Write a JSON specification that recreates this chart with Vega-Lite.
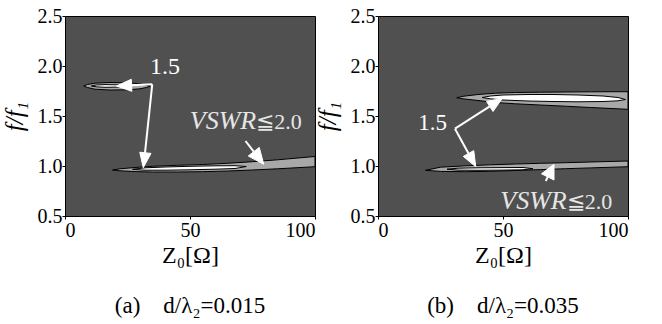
{
  "$schema": "https://vega.github.io/schema/vega-lite/v6.json",
  "padding": {"left": 1, "top": 5, "right": 5, "bottom": 5},
  "datasets": {
    "contours": [
      {"panel": "a", "shape": "a1", "level": "outer", "Z": 7.5, "f": 1.8, "f2": 1.8},
      {"panel": "a", "shape": "a1", "level": "outer", "Z": 9, "f": 1.785, "f2": 1.815},
      {"panel": "a", "shape": "a1", "level": "outer", "Z": 12, "f": 1.768, "f2": 1.828},
      {"panel": "a", "shape": "a1", "level": "outer", "Z": 18, "f": 1.76, "f2": 1.835},
      {"panel": "a", "shape": "a1", "level": "outer", "Z": 25, "f": 1.762, "f2": 1.832},
      {"panel": "a", "shape": "a1", "level": "outer", "Z": 30, "f": 1.772, "f2": 1.822},
      {"panel": "a", "shape": "a1", "level": "outer", "Z": 32.5, "f": 1.785, "f2": 1.808},
      {"panel": "a", "shape": "a1", "level": "outer", "Z": 34, "f": 1.797, "f2": 1.797},
      {"panel": "a", "shape": "a1i", "level": "inner", "Z": 10.5, "f": 1.8, "f2": 1.8},
      {"panel": "a", "shape": "a1i", "level": "inner", "Z": 12.5, "f": 1.792, "f2": 1.81},
      {"panel": "a", "shape": "a1i", "level": "inner", "Z": 16, "f": 1.787, "f2": 1.814},
      {"panel": "a", "shape": "a1i", "level": "inner", "Z": 21, "f": 1.789, "f2": 1.812},
      {"panel": "a", "shape": "a1i", "level": "inner", "Z": 24, "f": 1.795, "f2": 1.806},
      {"panel": "a", "shape": "a1i", "level": "inner", "Z": 25, "f": 1.8, "f2": 1.8},
      {"panel": "a", "shape": "a2", "level": "outer", "Z": 19, "f": 0.96, "f2": 0.96},
      {"panel": "a", "shape": "a2", "level": "outer", "Z": 22, "f": 0.952, "f2": 0.972},
      {"panel": "a", "shape": "a2", "level": "outer", "Z": 28, "f": 0.944, "f2": 0.985},
      {"panel": "a", "shape": "a2", "level": "outer", "Z": 35, "f": 0.94, "f2": 0.997},
      {"panel": "a", "shape": "a2", "level": "outer", "Z": 45, "f": 0.94, "f2": 1.007},
      {"panel": "a", "shape": "a2", "level": "outer", "Z": 55, "f": 0.943, "f2": 1.015},
      {"panel": "a", "shape": "a2", "level": "outer", "Z": 65, "f": 0.95, "f2": 1.027},
      {"panel": "a", "shape": "a2", "level": "outer", "Z": 75, "f": 0.96, "f2": 1.043},
      {"panel": "a", "shape": "a2", "level": "outer", "Z": 85, "f": 0.972, "f2": 1.062},
      {"panel": "a", "shape": "a2", "level": "outer", "Z": 100, "f": 0.993, "f2": 1.095},
      {"panel": "a", "shape": "a2i", "level": "inner", "Z": 27, "f": 0.967, "f2": 0.967},
      {"panel": "a", "shape": "a2i", "level": "inner", "Z": 32, "f": 0.958, "f2": 0.982},
      {"panel": "a", "shape": "a2i", "level": "inner", "Z": 40, "f": 0.958, "f2": 0.99},
      {"panel": "a", "shape": "a2i", "level": "inner", "Z": 50, "f": 0.962, "f2": 0.997},
      {"panel": "a", "shape": "a2i", "level": "inner", "Z": 60, "f": 0.968, "f2": 1.002},
      {"panel": "a", "shape": "a2i", "level": "inner", "Z": 68, "f": 0.975, "f2": 1.003},
      {"panel": "a", "shape": "a2i", "level": "inner", "Z": 72.5, "f": 0.995, "f2": 0.995},
      {"panel": "b", "shape": "b1", "level": "outer", "Z": 31.5, "f": 1.683, "f2": 1.683},
      {"panel": "b", "shape": "b1", "level": "outer", "Z": 34, "f": 1.672, "f2": 1.697},
      {"panel": "b", "shape": "b1", "level": "outer", "Z": 40, "f": 1.655, "f2": 1.715},
      {"panel": "b", "shape": "b1", "level": "outer", "Z": 47, "f": 1.635, "f2": 1.728},
      {"panel": "b", "shape": "b1", "level": "outer", "Z": 55, "f": 1.622, "f2": 1.735},
      {"panel": "b", "shape": "b1", "level": "outer", "Z": 65, "f": 1.61, "f2": 1.738},
      {"panel": "b", "shape": "b1", "level": "outer", "Z": 75, "f": 1.598, "f2": 1.74},
      {"panel": "b", "shape": "b1", "level": "outer", "Z": 85, "f": 1.585, "f2": 1.742},
      {"panel": "b", "shape": "b1", "level": "outer", "Z": 100, "f": 1.567, "f2": 1.743},
      {"panel": "b", "shape": "b1i", "level": "inner", "Z": 41.7, "f": 1.685, "f2": 1.685},
      {"panel": "b", "shape": "b1i", "level": "inner", "Z": 45, "f": 1.672, "f2": 1.7},
      {"panel": "b", "shape": "b1i", "level": "inner", "Z": 50, "f": 1.66, "f2": 1.71},
      {"panel": "b", "shape": "b1i", "level": "inner", "Z": 60, "f": 1.65, "f2": 1.715},
      {"panel": "b", "shape": "b1i", "level": "inner", "Z": 70, "f": 1.645, "f2": 1.715},
      {"panel": "b", "shape": "b1i", "level": "inner", "Z": 80, "f": 1.642, "f2": 1.71},
      {"panel": "b", "shape": "b1i", "level": "inner", "Z": 90, "f": 1.645, "f2": 1.7},
      {"panel": "b", "shape": "b1i", "level": "inner", "Z": 96, "f": 1.652, "f2": 1.685},
      {"panel": "b", "shape": "b1i", "level": "inner", "Z": 99, "f": 1.665, "f2": 1.665},
      {"panel": "b", "shape": "b2", "level": "outer", "Z": 19, "f": 0.957, "f2": 0.957},
      {"panel": "b", "shape": "b2", "level": "outer", "Z": 25, "f": 0.946, "f2": 0.988},
      {"panel": "b", "shape": "b2", "level": "outer", "Z": 35, "f": 0.943, "f2": 1.002},
      {"panel": "b", "shape": "b2", "level": "outer", "Z": 45, "f": 0.947, "f2": 1.012},
      {"panel": "b", "shape": "b2", "level": "outer", "Z": 55, "f": 0.955, "f2": 1.02},
      {"panel": "b", "shape": "b2", "level": "outer", "Z": 65, "f": 0.964, "f2": 1.027},
      {"panel": "b", "shape": "b2", "level": "outer", "Z": 75, "f": 0.973, "f2": 1.033},
      {"panel": "b", "shape": "b2", "level": "outer", "Z": 85, "f": 0.981, "f2": 1.04},
      {"panel": "b", "shape": "b2", "level": "outer", "Z": 100, "f": 0.993, "f2": 1.05},
      {"panel": "b", "shape": "b2i", "level": "inner", "Z": 27.6, "f": 0.968, "f2": 0.968},
      {"panel": "b", "shape": "b2i", "level": "inner", "Z": 32, "f": 0.959, "f2": 0.978},
      {"panel": "b", "shape": "b2i", "level": "inner", "Z": 40, "f": 0.957, "f2": 0.982},
      {"panel": "b", "shape": "b2i", "level": "inner", "Z": 50, "f": 0.959, "f2": 0.984},
      {"panel": "b", "shape": "b2i", "level": "inner", "Z": 58, "f": 0.962, "f2": 0.985},
      {"panel": "b", "shape": "b2i", "level": "inner", "Z": 62, "f": 0.973, "f2": 0.973}
    ],
    "arrows": [
      {"panel": "a", "Z": 34.9, "f": 1.817, "Z2": 26.6, "f2": 1.807},
      {"panel": "a", "Z": 34.9, "f": 1.817, "Z2": 32.0, "f2": 1.132},
      {"panel": "a", "Z": 72.2, "f": 1.25, "Z2": 75.5, "f2": 1.143},
      {"panel": "b", "Z": 30.8, "f": 1.373, "Z2": 44.7, "f2": 1.596},
      {"panel": "b", "Z": 30.8, "f": 1.373, "Z2": 36.2, "f2": 1.125},
      {"panel": "b", "Z": 67.1, "f": 0.85, "Z2": 67.9, "f2": 0.891}
    ],
    "heads": [
      {"panel": "a", "id": "ha1", "i": 0, "Z": 20.6, "f": 1.8},
      {"panel": "a", "id": "ha1", "i": 1, "Z": 26.5, "f": 1.867},
      {"panel": "a", "id": "ha1", "i": 2, "Z": 26.75, "f": 1.747},
      {"panel": "a", "id": "ha1", "i": 3, "Z": 20.6, "f": 1.8},
      {"panel": "a", "id": "ha2", "i": 0, "Z": 31.3, "f": 0.983},
      {"panel": "a", "id": "ha2", "i": 1, "Z": 29.9, "f": 1.138},
      {"panel": "a", "id": "ha2", "i": 2, "Z": 34.4, "f": 1.126},
      {"panel": "a", "id": "ha2", "i": 3, "Z": 31.3, "f": 0.983},
      {"panel": "a", "id": "ha3", "i": 0, "Z": 79.5, "f": 1.017},
      {"panel": "a", "id": "ha3", "i": 1, "Z": 73.3, "f": 1.1},
      {"panel": "a", "id": "ha3", "i": 2, "Z": 77.7, "f": 1.186},
      {"panel": "a", "id": "ha3", "i": 3, "Z": 79.5, "f": 1.017},
      {"panel": "b", "id": "hb1", "i": 0, "Z": 49.7, "f": 1.677},
      {"panel": "b", "id": "hb1", "i": 1, "Z": 46.0, "f": 1.545},
      {"panel": "b", "id": "hb1", "i": 2, "Z": 43.4, "f": 1.646},
      {"panel": "b", "id": "hb1", "i": 3, "Z": 49.7, "f": 1.677},
      {"panel": "b", "id": "hb2", "i": 0, "Z": 39.1, "f": 0.993},
      {"panel": "b", "id": "hb2", "i": 1, "Z": 34.1, "f": 1.096},
      {"panel": "b", "id": "hb2", "i": 2, "Z": 38.3, "f": 1.154},
      {"panel": "b", "id": "hb2", "i": 3, "Z": 39.1, "f": 0.993},
      {"panel": "b", "id": "hb3", "i": 0, "Z": 70.4, "f": 1.017},
      {"panel": "b", "id": "hb3", "i": 1, "Z": 70.4, "f": 0.86},
      {"panel": "b", "id": "hb3", "i": 2, "Z": 65.4, "f": 0.922},
      {"panel": "b", "id": "hb3", "i": 3, "Z": 70.4, "f": 1.017}
    ],
    "labels": [
      {"panel": "a", "kind": "num", "Z": 40, "f": 1.92, "text": "1.5"},
      {"panel": "a", "kind": "vswr", "Z": 76.5, "f": 1.373, "text": "VSWR"},
      {"panel": "a", "kind": "rest", "Z": 76.5, "f": 1.373, "text": "≦2.0"},
      {"panel": "b", "kind": "num", "Z": 21.8, "f": 1.36, "text": "1.5"},
      {"panel": "b", "kind": "vswr", "Z": 75.5, "f": 0.57, "text": "VSWR"},
      {"panel": "b", "kind": "rest", "Z": 75.5, "f": 0.57, "text": "≦2.0"}
    ]
  },
  "hconcat": [
    {
      "width": 250,
      "height": 200,
      "title": {"text": "(a)\u00a0\u00a0\u00a0\u00a0d/λ₂=0.015", "orient": "bottom", "anchor": "middle", "frame": "group", "offset": 28},
      "encoding": {
        "x": {"field": "Z", "type": "quantitative", "scale": {"domain": [0, 100], "nice": false}, "axis": {"values": [0, 50, 100], "title": "Z₀[Ω]", "labelPadding": 1, "titlePadding": 3}},
        "y": {"field": "f", "type": "quantitative", "scale": {"domain": [0.5, 2.5], "nice": false, "zero": false}, "axis": {"values": [0.5, 1, 1.5, 2, 2.5], "format": ".1f", "title": "f/f₁", "titleFontStyle": "italic", "titleFontSize": 25, "labelPadding": 0, "titlePadding": 10}}
      },
      "layer": [
        {"data": {"name": "contours"}, "transform": [{"filter": "datum.panel == 'a' && datum.level == 'outer'"}], "mark": {"type": "area", "fill": "#a8a8a8", "stroke": "#000000", "strokeWidth": 1}, "encoding": {"y2": {"field": "f2"}, "detail": {"field": "shape"}}},
        {"data": {"name": "contours"}, "transform": [{"filter": "datum.panel == 'a' && datum.level == 'inner'"}], "mark": {"type": "area", "fill": "#ffffff", "stroke": "#000000", "strokeWidth": 1}, "encoding": {"y2": {"field": "f2"}, "detail": {"field": "shape"}}},
        {"data": {"name": "arrows"}, "transform": [{"filter": "datum.panel == 'a'"}], "mark": {"type": "rule", "color": "#ffffff", "strokeWidth": 2}, "encoding": {"x2": {"field": "Z2"}, "y2": {"field": "f2"}}},
        {"data": {"name": "heads"}, "transform": [{"filter": "datum.panel == 'a'"}], "mark": {"type": "line", "fill": "#ffffff", "stroke": "#ffffff", "strokeWidth": 1}, "encoding": {"order": {"field": "i"}, "detail": {"field": "id"}}},
        {"data": {"name": "labels"}, "transform": [{"filter": "datum.panel == 'a' && datum.kind == 'num'"}], "mark": {"type": "text", "align": "center", "baseline": "alphabetic", "fontSize": 24, "color": "#ffffff"}, "encoding": {"text": {"field": "text"}}},
        {"data": {"name": "labels"}, "transform": [{"filter": "datum.panel == 'a' && datum.kind == 'vswr'"}], "mark": {"type": "text", "align": "right", "baseline": "alphabetic", "fontStyle": "italic", "fontSize": 26, "color": "#e6e6e6"}, "encoding": {"text": {"field": "text"}}},
        {"data": {"name": "labels"}, "transform": [{"filter": "datum.panel == 'a' && datum.kind == 'rest'"}], "mark": {"type": "text", "align": "left", "baseline": "alphabetic", "fontSize": 22, "color": "#e6e6e6"}, "encoding": {"text": {"field": "text"}}}
      ]
    },
    {
      "width": 250,
      "height": 200,
      "title": {"text": "(b)\u00a0\u00a0\u00a0\u00a0d/λ₂=0.035", "orient": "bottom", "anchor": "middle", "frame": "group", "offset": 28},
      "encoding": {
        "x": {"field": "Z", "type": "quantitative", "scale": {"domain": [0, 100], "nice": false}, "axis": {"values": [0, 50, 100], "title": "Z₀[Ω]", "labelPadding": 1, "titlePadding": 3}},
        "y": {"field": "f", "type": "quantitative", "scale": {"domain": [0.5, 2.5], "nice": false, "zero": false}, "axis": {"values": [0.5, 1, 1.5, 2, 2.5], "format": ".1f", "title": "f/f₁", "titleFontStyle": "italic", "titleFontSize": 25, "labelPadding": 0, "titlePadding": 10}}
      },
      "layer": [
        {"data": {"name": "contours"}, "transform": [{"filter": "datum.panel == 'b' && datum.level == 'outer'"}], "mark": {"type": "area", "fill": "#a8a8a8", "stroke": "#000000", "strokeWidth": 1}, "encoding": {"y2": {"field": "f2"}, "detail": {"field": "shape"}}},
        {"data": {"name": "contours"}, "transform": [{"filter": "datum.panel == 'b' && datum.level == 'inner'"}], "mark": {"type": "area", "fill": "#ffffff", "stroke": "#000000", "strokeWidth": 1}, "encoding": {"y2": {"field": "f2"}, "detail": {"field": "shape"}}},
        {"data": {"name": "arrows"}, "transform": [{"filter": "datum.panel == 'b'"}], "mark": {"type": "rule", "color": "#ffffff", "strokeWidth": 2}, "encoding": {"x2": {"field": "Z2"}, "y2": {"field": "f2"}}},
        {"data": {"name": "heads"}, "transform": [{"filter": "datum.panel == 'b'"}], "mark": {"type": "line", "fill": "#ffffff", "stroke": "#ffffff", "strokeWidth": 1}, "encoding": {"order": {"field": "i"}, "detail": {"field": "id"}}},
        {"data": {"name": "labels"}, "transform": [{"filter": "datum.panel == 'b' && datum.kind == 'num'"}], "mark": {"type": "text", "align": "center", "baseline": "alphabetic", "fontSize": 23, "color": "#ffffff"}, "encoding": {"text": {"field": "text"}}},
        {"data": {"name": "labels"}, "transform": [{"filter": "datum.panel == 'b' && datum.kind == 'vswr'"}], "mark": {"type": "text", "align": "right", "baseline": "alphabetic", "fontStyle": "italic", "fontSize": 26, "color": "#e6e6e6"}, "encoding": {"text": {"field": "text"}}},
        {"data": {"name": "labels"}, "transform": [{"filter": "datum.panel == 'b' && datum.kind == 'rest'"}], "mark": {"type": "text", "align": "left", "baseline": "alphabetic", "fontSize": 22, "color": "#e6e6e6"}, "encoding": {"text": {"field": "text"}}}
      ]
    }
  ],
  "spacing": 63,
  "bounds": "flush",
  "config": {
    "font": "Liberation Serif, Times New Roman, serif",
    "text": {"font": "Liberation Serif, Times New Roman, serif"},
    "view": {"fill": "#505050", "stroke": "#000000", "strokeWidth": 1},
    "axis": {"grid": false, "domain": false, "labelFont": "Liberation Serif, Times New Roman, serif", "labelFontSize": 20, "labelColor": "#000000", "titleFont": "Liberation Serif, Times New Roman, serif", "titleFontSize": 24, "titleColor": "#000000", "titleFontWeight": "normal", "tickColor": "#000000", "tickSize": 3},
    "title": {"font": "Liberation Serif, Times New Roman, serif", "fontSize": 23, "fontWeight": "normal", "color": "#000000"}
  }
}
